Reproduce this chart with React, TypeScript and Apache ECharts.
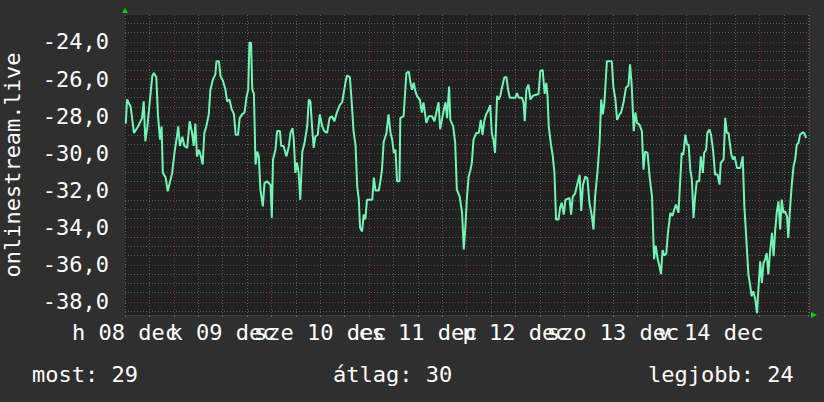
import React, { useEffect, useRef } from "react";
import * as echarts from "echarts";

// hours since the left edge of the plot (plot spans ~168.2 h)
const hours = [
  0.2, 0.5, 1.4, 2.2, 3.2, 4.2, 4.6, 5.0, 5.5, 6.1, 6.7, 7.1, 7.7, 8.1, 8.6, 9.0, 9.3, 10.0, 10.5, 11.0,
  11.6, 12.2, 12.7, 13.1, 13.5, 14.1, 14.6, 15.3, 15.9, 16.5, 16.9, 17.3, 17.7, 18.2, 18.7, 19.1, 19.5, 20.0, 20.6, 21.0,
  21.6, 22.2, 22.5, 23.1, 23.5, 24.1, 24.7, 25.1, 25.7, 26.2, 26.8, 27.2, 27.8, 28.2, 28.8, 29.4, 29.9, 30.3, 30.6, 31.0,
  31.3, 31.7, 32.1, 32.5, 32.9, 33.3, 33.9, 34.3, 34.9, 35.8, 36.1, 36.4, 37.0, 37.4, 38.1, 38.4, 39.0, 39.7, 40.3, 40.7,
  41.2, 41.5, 41.9, 42.3, 42.7, 43.1, 43.6, 44.1, 44.8, 45.2, 45.6, 46.0, 46.4, 46.8, 47.4, 47.9, 48.5, 49.0, 49.7, 50.3,
  50.9, 51.5, 52.1, 52.8, 53.4, 54.2, 54.6, 55.3, 55.8, 56.2, 56.7, 57.1, 57.5, 57.8, 58.3, 58.7, 59.1, 59.5, 60.8, 61.2,
  61.6, 62.4, 62.8, 63.2, 63.6, 64.3, 64.8, 65.3, 65.7, 66.1, 66.5, 66.9, 67.5, 67.7, 68.5, 68.8, 69.2, 69.8, 70.2, 70.6,
  71.0, 71.4, 71.8, 72.5, 73.0, 73.4, 74.1, 74.7, 75.5, 76.1, 76.7, 77.1, 77.5, 78.0, 78.4, 78.8, 79.2, 79.7, 80.0, 80.7,
  81.2, 81.6, 82.3, 82.9, 83.3, 83.7, 84.1, 84.5, 84.9, 85.3, 85.7, 86.4, 87.0, 87.5, 87.9, 88.4, 88.8, 89.4, 89.8, 90.2,
  90.6, 91.0, 91.5, 91.9, 92.3, 92.7, 93.3, 93.8, 94.2, 94.6, 96.0, 96.4, 96.8, 97.6, 98.0, 98.3, 98.7, 99.2, 99.7, 100.3,
  101.7, 102.1, 102.7, 103.2, 103.6, 103.9, 104.2, 104.7, 105.2, 105.6, 106.0, 106.6, 107.0, 107.4, 107.9, 108.3, 109.3, 109.7, 110.1, 110.7,
  111.1, 111.5, 111.8, 112.2, 112.6, 113.2, 113.7, 114.2, 114.8, 115.2, 115.6, 116.2, 116.7, 117.1, 117.5, 117.9, 118.5, 119.7, 120.1, 120.6,
  121.0, 121.6, 122.0, 122.6, 123.2, 123.8, 124.2, 124.6, 125.1, 125.5, 125.9, 126.5, 127.1, 127.5, 127.9, 128.5, 129.0, 129.6, 130.1, 130.5,
  131.0, 131.4, 131.8, 132.2, 132.6, 133.1, 133.5, 134.1, 134.6, 135.1, 135.5, 136.1, 136.9, 137.3, 137.8, 138.2, 138.6, 139.0, 139.4, 139.8,
  140.2, 140.6, 141.2, 141.6, 142.1, 142.4, 142.9, 143.2, 143.7, 144.1, 144.6, 145.1, 145.7, 146.2, 146.5, 147.2, 147.6, 148.0, 148.4, 149.1,
  149.5, 149.9, 150.5, 151.3, 151.9, 152.3, 152.7, 153.3, 153.7, 154.1, 154.5, 155.0, 155.4, 155.8, 156.2, 156.6, 157.0, 157.4, 157.8, 158.2,
  158.6, 159.1, 159.5, 159.9, 160.3, 160.7, 161.1, 161.5, 161.9, 162.3, 162.8, 163.1, 163.6, 164.0, 164.4, 164.8, 165.2, 165.6, 166.0, 166.7,
  167.0, 167.5,
];

const temps = [
  -28.4, -27.1, -27.5, -28.9, -28.55, -28.1, -27.2, -29.35, -28.55, -27.2, -25.85, -25.67, -25.9, -27.9, -29.26, -28.55, -31.05, -31.3, -32.04, -31.6,
  -31.05, -29.9, -29.2, -28.55, -29.6, -29.1, -29.6, -29.7, -28.27, -28.9, -29.6, -28.4, -30.16, -29.8, -30.2, -30.6, -28.9, -28.55, -27.9, -26.57,
  -26.03, -25.76, -25.04, -25.04, -25.85, -26.1, -26.57, -27.2, -27.1, -27.6, -27.9, -28.99, -29.0, -28.1, -27.9, -27.8, -26.93, -26.57, -24.05, -24.05,
  -26.57, -26.8, -30.6, -29.9, -30.16, -31.95, -32.85, -31.6, -31.5, -31.7, -33.47, -30.33, -29.8, -28.8, -28.8, -29.6, -29.6, -30.16, -29.6, -28.9,
  -28.64, -29.26, -31.05, -30.5, -31.05, -32.5, -29.9, -29.5, -28.55, -27.1, -27.2, -28.55, -29.7, -29.1, -29.0, -27.9, -28.55, -28.8, -28.9, -28.1,
  -28.0, -28.27, -27.8, -27.4, -27.25, -26.2, -25.8, -25.9, -27.4, -28.8, -29.6, -31.77, -32.5, -34.0, -34.2, -33.3, -33.55, -32.5, -32.5, -31.3,
  -32.0, -32.0, -31.5, -30.87, -29.4, -28.9, -27.9, -28.9, -29.26, -29.97, -29.8, -31.5, -31.5, -28.1, -28.0, -27.0, -25.67, -25.6, -26.2, -26.57,
  -26.2, -26.65, -26.9, -27.1, -27.8, -27.25, -28.36, -28.0, -28.0, -28.27, -27.65, -27.25, -28.7, -28.1, -27.65, -27.25, -28.1, -26.4, -28.2, -28.55,
  -29.45, -31.95, -32.33, -33.23, -35.17, -33.95, -32.33, -31.25, -30.95, -30.5, -29.26, -28.9, -28.9, -28.2, -29.0, -28.2, -27.9, -27.65, -27.4, -28.9,
  -29.26, -29.97, -26.9, -27.1, -26.9, -26.45, -25.9, -25.9, -26.57, -27.0, -27.0, -26.75, -27.0, -27.0, -27.25, -28.27, -26.57, -26.3, -27.1, -26.9,
  -26.8, -25.6, -25.5, -26.8, -26.2, -26.9, -28.55, -29.45, -30.16, -31.05, -33.56, -33.56, -32.92, -32.65, -33.3, -32.5, -32.4, -33.3, -32.33, -32.15,
  -31.77, -31.4, -31.15, -33.1, -31.7, -31.25, -31.35, -32.65, -33.37, -34.1, -32.33, -30.95, -29.45, -27.1, -27.9, -27.25, -25.04, -25.04, -26.45, -27.1,
  -28.2, -27.9, -27.8, -27.25, -26.45, -26.35, -25.2, -26.35, -28.8, -27.8, -28.36, -28.45, -28.8, -30.87, -29.9, -29.97, -31.25, -32.33, -35.7, -34.97,
  -35.7, -36.05, -36.5, -35.2, -35.5, -35.4, -34.3, -33.2, -33.37, -33.0, -32.75, -33.2, -29.98, -30.07, -28.99, -29.53, -29.53, -30.87, -31.41, -33.47,
  -32.3, -31.5, -31.5, -30.16, -31.05, -29.98, -29.8, -28.9, -28.72, -28.99, -29.8, -31.14, -31.14, -31.68, -30.51, -30.33, -28.09, -28.9, -28.9, -30.07,
  -30.33, -30.16, -30.78, -30.78, -30.16, -32.85, -34.28, -36.52, -37.06, -37.69, -37.42, -37.87, -38.6, -37.15, -35.81, -36.97, -35.9, -35.72, -35.36, -36.52,
  -35.36, -34.28, -35.54, -34.1, -33.12, -32.58, -34.1, -32.49, -33.2, -33.12, -33.39, -34.55, -32.76, -31.59, -30.7, -30.33, -29.53, -29.44, -28.99, -28.87,
  -28.9, -29.17,
];

const dayLabels = ["h 08 dec", "k 09 dec", "sze 10 dec", "cs 11 dec", "p 12 dec", "szo 13 dec", "v 14 dec"];
const yMajorTicks = [-38, -36, -34, -32, -30, -28, -26, -24];
const yMinorTicks = [
  -38.5, -38, -37.5, -37, -36.5, -36, -35.5, -35, -34.5, -34, -33.5, -33, -32.5, -32, -31.5, -31,
  -30.5, -30, -29.5, -29, -28.5, -28, -27.5, -27, -26.5, -26, -25.5, -25, -24.5, -24, -23.5, -23,
];
const yAxisTitle = "onlinestream.live";
const legendItems = ["most: 29", "átlag: 30", "legjobb: 24"];

const FONT = '"DejaVu Sans Mono", monospace';
const GRAY = "#5a5a5a";
const RED = "#7a3434";

export default function App() {
  const ref = useRef<HTMLDivElement>(null);
  useEffect(() => {
    if (!ref.current) return;
    const chart = echarts.init(ref.current, undefined, { renderer: "svg" });
    const option: any = {
      animation: false,
      backgroundColor: "#2f2f2f",
      textStyle: { fontFamily: FONT },
      grid: {
        left: 125,
        right: 15,
        top: 15,
        bottom: 87,
        show: true,
        backgroundColor: "#212121",
        borderWidth: 0,
      },
      xAxis: {
        type: "value",
        min: 0,
        max: 168.2,
        interval: 6,
        axisLine: { show: true, lineStyle: { color: "#3c3c3c", width: 1 } },
        axisTick: { show: true, length: 2, lineStyle: { color: "#666" } },
        axisLabel: {
          show: true,
          margin: 6,
          color: "#ffffff",
          fontSize: 22,
          fontFamily: FONT,
          showMinLabel: true,
          showMaxLabel: false,
          hideOverlap: false,
          formatter: (v: number) => {
            const d = v / 24;
            const r = Math.round(d);
            if (Math.abs(d - r) < 1e-6 && r >= 0 && r < dayLabels.length) return dayLabels[r];
            return "";
          },
        },
        splitLine: {
          show: true,
          showMinLine: true,
          lineStyle: { color: [GRAY, GRAY, RED, GRAY], type: [1, 2], width: 1 },
        },
      },
      yAxis: {
        type: "value",
        min: -38.7,
        max: -22.55,
        axisLine: { show: false },
        axisTick: { show: false, customValues: yMinorTicks },
        axisLabel: {
          customValues: yMajorTicks,
          margin: 16,
          color: "#ffffff",
          fontSize: 22,
          fontFamily: FONT,
          formatter: (v: number) => v.toFixed(1).replace(".", ","),
        },
        splitLine: {
          show: true,
          lineStyle: { color: [GRAY, RED, GRAY, GRAY], type: [1, 2], width: 1 },
        },
      },
      series: [
        {
          type: "line",
          data: hours.map((h, i) => [h, temps[i]]),
          showSymbol: false,
          symbol: "none",
          lineStyle: { color: "#72f4b6", width: 2 },
          z: 5,
        },
      ],
      graphic: [
        {
          type: "text",
          x: 12,
          y: 165,
          rotation: Math.PI / 2,
          style: {
            text: yAxisTitle,
            fill: "#ffffff",
            font: `22px ${FONT}`,
            textAlign: "center",
            textVerticalAlign: "middle",
          },
        },
        {
          type: "text",
          x: 32,
          y: 374,
          style: { text: legendItems[0], fill: "#ffffff", font: `22px ${FONT}`, textAlign: "left", textVerticalAlign: "middle" },
        },
        {
          type: "text",
          x: 333,
          y: 374,
          style: { text: legendItems[1], fill: "#ffffff", font: `22px ${FONT}`, textAlign: "left", textVerticalAlign: "middle" },
        },
        {
          type: "text",
          x: 648,
          y: 374,
          style: { text: legendItems[2], fill: "#ffffff", font: `22px ${FONT}`, textAlign: "left", textVerticalAlign: "middle" },
        },
        {
          type: "polygon",
          shape: { points: [[122, 13], [128, 13], [125, 8]] },
          style: { fill: "#10d010" },
        },
        {
          type: "polygon",
          shape: { points: [[811, 312], [811, 318], [817, 315]] },
          style: { fill: "#10d010" },
        },
      ],
    };
    chart.setOption(option);
    return () => chart.dispose();
  }, []);
  return (
    <div
      ref={ref}
      style={{ position: "absolute", left: 0, top: 0, width: 824, height: 402 }}
    />
  );
}
